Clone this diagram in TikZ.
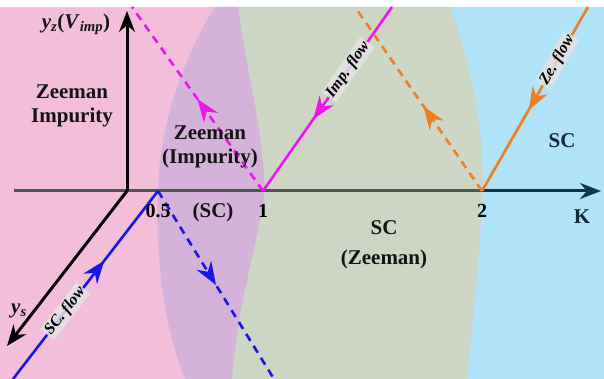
\documentclass[tikz,border=0pt]{standalone}
\usepackage{fontspec}
\setmainfont{Liberation Serif}
\usetikzlibrary{arrows.meta,positioning,decorations.markings}
\definecolor{pinkbg}{RGB}{242,190,218}
\definecolor{purplebg}{RGB}{213,178,218}
\definecolor{greenbg}{RGB}{205,214,196}
\definecolor{bluebg}{RGB}{176,226,248}
\definecolor{axisgray}{RGB}{78,84,78}
\definecolor{axisnavy}{RGB}{18,52,82}
\definecolor{flowmag}{RGB}{238,20,238}
\definecolor{floworange}{RGB}{236,126,36}
\definecolor{flowblue}{RGB}{22,22,230}
\definecolor{textnavy}{RGB}{20,40,60}
\tikzset{
  lbl/.style={font=\fontsize{21}{24}\selectfont\bfseries, align=center, text=black!92},
  tick/.style={font=\fontsize{20}{22}\selectfont\bfseries, inner sep=2pt},
  axis/.style={line width=3pt, -{Stealth[length=21pt,width=16pt]}, #1},
  flow/.style={line width=2.6pt, draw=#1, postaction={decorate}},
  dashflow/.style={flow=#1, dash pattern=on 8pt off 6pt},
  midarr/.style={decoration={markings,
      mark=at position #1 with {\arrow[solid]{Stealth[length=23pt,width=17pt]}}}},
  tag/.style={font=\fontsize{16}{18}\selectfont\bfseries\itshape, fill=gray!22,
              fill opacity=0.85, text opacity=1, inner sep=1.5pt, sloped},
}
\begin{document}
\begin{tikzpicture}[x=1pt,y=-1pt]
  \useasboundingbox (0,0) rectangle (604,379);
  % phase regions
  \fill[pinkbg] (0,7) rectangle (604,379);
  \fill[bluebg] (450,7) -- (604,7) -- (604,379) -- (467,379)
        .. controls (472,330) and (480,260) .. (482,191)
        .. controls (485,130) and (470,60) .. (450,7) -- cycle;
  \fill[greenbg] (227,7) -- (450,7)
        .. controls (470,60) and (485,130) .. (482,191)
        .. controls (480,260) and (472,330) .. (467,379) -- (210,379) -- cycle;
  \fill[purplebg] (215,7) -- (238,7)
        .. controls (246,70) and (266,140) .. (264,195)
        .. controls (258,245) and (238,300) .. (232,379) -- (185,379)
        .. controls (165,330) and (155,260) .. (158,195)
        .. controls (158,120) and (190,45) .. (215,7) -- cycle;

  % fixed points and ends
  \coordinate (O) at (127,191);
  \coordinate (Pa) at (158,191);
  \coordinate (Pb) at (263,191);
  \coordinate (Pc) at (482,191);
  \coordinate (axL) at (14,191);
  \coordinate (kTip) at (601,191);
  \coordinate (yzTip) at (127,11);
  \coordinate (ysTip) at (7,346);
  \coordinate (scLow) at (13,379);
  \coordinate (scDash) at (274,379);
  \coordinate (impTop) at (392,7);
  \coordinate (impDash) at (132,7);
  \coordinate (zeTop) at (588,7);
  \coordinate (zeDash) at (355,7);

  % axes
  \draw[line width=3pt, axisgray] (axL) -- (Pc);
  \draw[axis=axisnavy] (Pc) -- (kTip);
  \draw[axis=black] (O) -- (yzTip);
  \draw[axis=black] (O) -- (ysTip);

  % flows
  \draw[flow=flowblue, midarr=0.63] (scLow) -- node[tag, pos=0.36] {SC. flow} (Pa);
  \draw[dashflow=flowblue, midarr=0.5] (Pa) -- (scDash);
  \draw[flow=flowmag, midarr=0.61] (impTop) -- node[tag, pos=0.34] {Imp. flow} (Pb);
  \draw[dashflow=flowmag, midarr=0.5] (Pb) -- (impDash);
  \draw[flow=floworange, midarr=0.56] (zeTop) -- node[tag, pos=0.29] {Ze. flow} (Pc);
  \draw[dashflow=floworange, midarr=0.46] (Pc) -- (zeDash);

  % labels
  \node[lbl] (yz) at (76,24) {\textit{y}\textsubscript{\textit{z}}(\textit{V}\textsubscript{\textit{imp}})};
  \node[lbl] (ys) at (19,311) {\textit{y}\textsubscript{\textit{s}}};
  \node[lbl] (zi) at (72,106) {Zeeman\\Impurity};
  \node[lbl] (zip) at (210,147) {Zeeman\\(Impurity)};
  \node[lbl] (scp) at (213,212) {(SC)};
  \node[lbl] (scz) at (384,245) {SC\\[6pt](Zeeman)};
  \node[lbl, text=textnavy] (scr) at (562,141) {SC};
  \node[tick, below=11pt of Pa] (ta) {0.5};
  \node[tick, below=11pt of Pb] (tb) {1};
  \node[tick, below=11pt of Pc] (tc) {2};
  \node[lbl, text=textnavy] (kl) at (582,217) {K};
\end{tikzpicture}
\end{document}
